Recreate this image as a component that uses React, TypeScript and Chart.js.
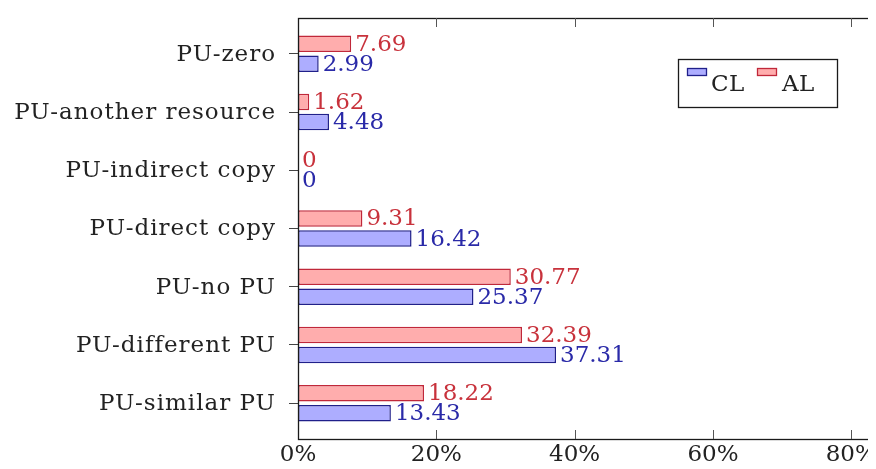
import React, { useEffect, useRef } from "react";
import { Chart, registerables } from "chart.js";

Chart.register(...registerables);

const categories = [
  "PU-zero",
  "PU-another resource",
  "PU-indirect copy",
  "PU-direct copy",
  "PU-no PU",
  "PU-different PU",
  "PU-similar PU",
];
const clValues = [2.99, 4.48, 0, 16.42, 25.37, 37.31, 13.43];
const alValues = [7.69, 1.62, 0, 9.31, 30.77, 32.39, 18.22];
const xTicks = [0, 20, 40, 60, 80];
const seriesNames = ["CL", "AL"];

const FONT = "DejaVu Serif";
const RED_FILL = "#ffadad";
const RED_LINE = "#c0283a";
const RED_TEXT = "#c8323c";
const BLUE_FILL = "#adadff";
const BLUE_LINE = "#20208a";
const BLUE_TEXT = "#2a2aa8";
const FRAME = "#1a1a1a";

const overlay = {
  id: "overlay",
  afterDatasetsDraw(chart: any) {
    const ctx = chart.ctx;
    const valueSets = [alValues, clValues];
    const colors = [RED_TEXT, BLUE_TEXT];
    ctx.save();
    ctx.font = `23px "${FONT}"`;
    ctx.textBaseline = "middle";
    ctx.textAlign = "left";
    chart.data.datasets.forEach((_: any, di: number) => {
      const meta = chart.getDatasetMeta(di);
      meta.data.forEach((el: any, i: number) => {
        ctx.fillStyle = colors[di];
        ctx.fillText(String(valueSets[di][i]), el.x + 4, el.y + 1);
      });
    });
    ctx.restore();
  },
  afterDraw(chart: any) {
    const ctx = chart.ctx;
    const a = chart.chartArea;
    const xs = chart.scales.x;
    const ys = chart.scales.y;
    ctx.save();
    // frame
    ctx.strokeStyle = FRAME;
    ctx.lineWidth = 1.3;
    ctx.strokeRect(Math.round(a.left) + 0.5, Math.round(a.top) + 0.5, Math.round(a.right - a.left), Math.round(a.bottom - a.top));
    // inner x ticks
    ctx.strokeStyle = "#555";
    ctx.lineWidth = 1;
    xTicks.forEach((v) => {
      if (v === 0) return;
      const px = Math.round(xs.getPixelForValue(v)) + 0.5;
      ctx.beginPath();
      ctx.moveTo(px, a.top);
      ctx.lineTo(px, a.top + 9);
      ctx.moveTo(px, a.bottom);
      ctx.lineTo(px, a.bottom - 9);
      ctx.stroke();
    });
    // x tick labels
    ctx.fillStyle = "#222";
    ctx.font = `23px "${FONT}"`;
    ctx.textAlign = "center";
    ctx.textBaseline = "middle";
    xTicks.forEach((v) => {
      ctx.fillText(v + "%", xs.getPixelForValue(v), a.bottom + 16);
    });
    // y labels
    ctx.textAlign = "right";
    (ctx as any).letterSpacing = "1px";
    categories.forEach((c, i) => {
      ctx.fillText(c, a.left - 22, ys.getPixelForValue(i) + 1);
    });
    (ctx as any).letterSpacing = "0.5px";
    // legend
    const lx = 670, ly = 51, lw = 159, lh = 48;
    ctx.fillStyle = "#fff";
    ctx.fillRect(lx, ly, lw, lh);
    ctx.strokeStyle = FRAME;
    ctx.lineWidth = 1.3;
    ctx.strokeRect(lx + 0.5, ly + 0.5, lw, lh);
    const items = [
      { name: seriesNames[0], fill: BLUE_FILL, line: BLUE_LINE, ix: 679, tx: 703 },
      { name: seriesNames[1], fill: RED_FILL, line: RED_LINE, ix: 749, tx: 774 },
    ];
    ctx.textAlign = "left";
    items.forEach((it) => {
      ctx.fillStyle = it.fill;
      ctx.fillRect(it.ix, 60, 19, 7);
      ctx.strokeStyle = it.line;
      ctx.lineWidth = 1.3;
      ctx.strokeRect(it.ix + 0.5, 60.5, 19, 7);
      ctx.fillStyle = "#222";
      ctx.fillText(it.name, it.tx, 77);
    });
    ctx.restore();
  },
};

export default function App() {
  const ref = useRef<HTMLCanvasElement>(null);
  useEffect(() => {
    if (!ref.current) return;
    const chart = new Chart(ref.current, {
      type: "bar",
      data: {
        datasets: [
          {
            label: seriesNames[1],
            data: alValues.map((v, i) => ({ x: v, y: i })),
            backgroundColor: RED_FILL,
            borderColor: RED_LINE,
            borderWidth: 1.5,
            borderSkipped: false,
          },
          {
            label: seriesNames[0],
            data: clValues.map((v, i) => ({ x: v, y: i })),
            backgroundColor: BLUE_FILL,
            borderColor: BLUE_LINE,
            borderWidth: 1.5,
            borderSkipped: false,
          },
        ],
      },
      options: {
        indexAxis: "y",
        animation: false,
        responsive: false,
        categoryPercentage: 0.69,
        barPercentage: 0.82,
        layout: { padding: { top: 10, right: 4, left: 0, bottom: 0 } },
        plugins: { legend: { display: false }, tooltip: { enabled: false } },
        scales: {
          x: {
            type: "linear",
            min: 0,
            max: 83,
            afterBuildTicks: (s: any) => {
              s.ticks = xTicks.map((v) => ({ value: v }));
            },
            afterFit: (s: any) => {
              s.height = 30;
            },
            ticks: { display: false },
            grid: { display: false, drawTicks: false },
            border: { display: false },
          },
          y: {
            type: "linear",
            reverse: true,
            min: -0.615,
            max: 6.615,
            offset: false,
            afterBuildTicks: (s: any) => {
              s.ticks = categories.map((_, i) => ({ value: i }));
            },
            afterFit: (s: any) => {
              s.width = 290;
            },
            ticks: { display: false },
            grid: {
              display: true,
              offset: false,
              drawOnChartArea: false,
              drawTicks: true,
              tickLength: 9,
              tickColor: "#444",
              tickWidth: 1,
            },
            border: { display: false },
          },
        },
      },
      plugins: [overlay],
    } as any);
    return () => chart.destroy();
  }, []);
  return (
    <div style={{ width: 868, height: 461 }}>
      <canvas ref={ref} width={868} height={461} style={{ display: "block" }} />
    </div>
  );
}
